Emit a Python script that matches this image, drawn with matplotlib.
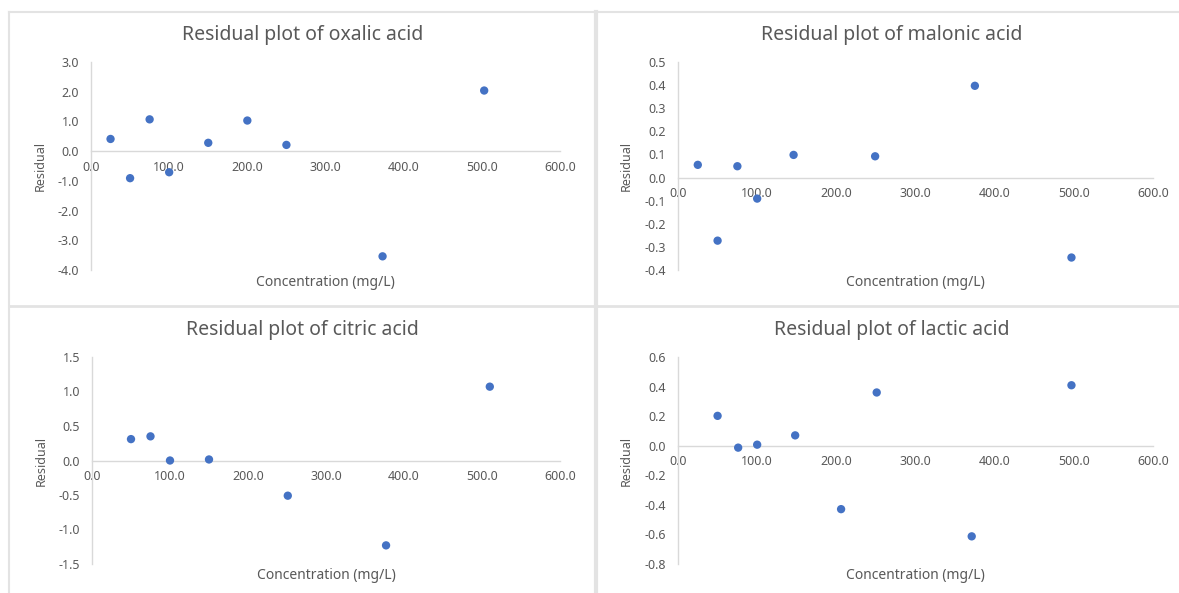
import numpy as np
import matplotlib
matplotlib.use('Agg')
import matplotlib.pyplot as plt
from matplotlib.ticker import FuncFormatter
from matplotlib.lines import Line2D

plt.rcParams['font.family'] = ['Noto Sans', 'DejaVu Sans']
plt.rcParams['axes.unicode_minus'] = False

# 数据
oxalic_x = [25, 50, 75, 100, 150, 200, 250, 373, 503]
oxalic_y = [0.41, -0.91, 1.07, -0.71, 0.28, 1.03, 0.21, -3.54, 2.04]

malonic_x = [25, 50, 75, 100, 146, 249, 375, 497]
malonic_y = [0.055, -0.273, 0.049, -0.091, 0.098, 0.092, 0.397, -0.346]

citric_x = [50, 75, 100, 150, 251, 377, 510]
citric_y = [0.31, 0.35, 0.0, 0.015, -0.51, -1.23, 1.07]

lactic_x = [50, 76, 100, 148, 206, 251, 371, 497]
lactic_y = [0.202, -0.013, 0.007, 0.070, -0.429, 0.360, -0.613, 0.409]

W, H = 1179, 593
GRAY = '#595959'
AXC = '#d9d9d9'
BLUE = '#4472C4'


def box(l, t, r, b):
    return [l / W, 1 - b / H, (r - l) / W, (b - t) / H]


def fmt(v, pos):
    return '%.1f' % v


fig = plt.figure(figsize=(W / 100, H / 100), dpi=100)

# 图表边框
for (x0, y0, x1, y1, lw) in [(9.5, 12, W, 12, 1.5), (9.5, 12, 9.5, H, 1.5),
                              (595.5, 12, 595.5, H, 3), (9.5, 305.5, W, 305.5, 2)]:
    fig.add_artist(Line2D([x0 / W, x1 / W], [1 - y0 / H, 1 - y1 / H], color='#e3e3e3', lw=lw))

panels = [
    ('Residual plot of oxalic acid', oxalic_x, oxalic_y, (91, 62, 560, 270), (-4, 3, 1.0), 303),
    ('Residual plot of malonic acid', malonic_x, malonic_y, (678, 62, 1153, 270), (-0.4, 0.5, 0.1), 892),
    ('Residual plot of citric acid', citric_x, citric_y, (92, 357, 560, 564), (-1.5, 1.5, 0.5), 302),
    ('Residual plot of lactic acid', lactic_x, lactic_y, (678, 357, 1153, 564), (-0.8, 0.6, 0.2), 892),
]

for title, xs, ys, (l, t, r, b), (ymin, ymax, step), tx in panels:
    ax = fig.add_axes(box(l, t, r, b))
    ax.scatter(xs, ys, s=36, color=BLUE, edgecolors='none', zorder=3, clip_on=False)
    ax.set_xlim(0, 600)
    ax.set_ylim(ymin, ymax)
    ax.set_xticks(np.arange(0, 601, 100))
    n = int(round((ymax - ymin) / step))
    ax.set_yticks([ymin + i * step for i in range(n + 1)])
    ax.xaxis.set_major_formatter(FuncFormatter(fmt))
    ax.yaxis.set_major_formatter(FuncFormatter(fmt))
    for s in ['top', 'right']:
        ax.spines[s].set_visible(False)
    ax.spines['bottom'].set_position(('data', 0))
    for s in ['left', 'bottom']:
        ax.spines[s].set_color(AXC)
        ax.spines[s].set_linewidth(1)
    ax.tick_params(axis='x', length=0, pad=7, labelsize=9, labelcolor=GRAY)
    ax.tick_params(axis='y', length=0, pad=8.5, labelsize=9, labelcolor=GRAY)
    ax.patch.set_visible(False)
    ax.text(0.5, -(282 - 270) / 208, 'Concentration (mg/L)', transform=ax.transAxes,
            ha='center', va='center', fontsize=10, color=GRAY)
    ax.text((40 - 91) / 469, 0.5, 'Residual', transform=ax.transAxes, rotation=90,
            ha='center', va='center', fontsize=9, color=GRAY)
    fig.text(tx / W, 1 - (t - 27) / H, title, ha='center', va='center', fontsize=14, color=GRAY)

plt.savefig('out.png', dpi=100)
